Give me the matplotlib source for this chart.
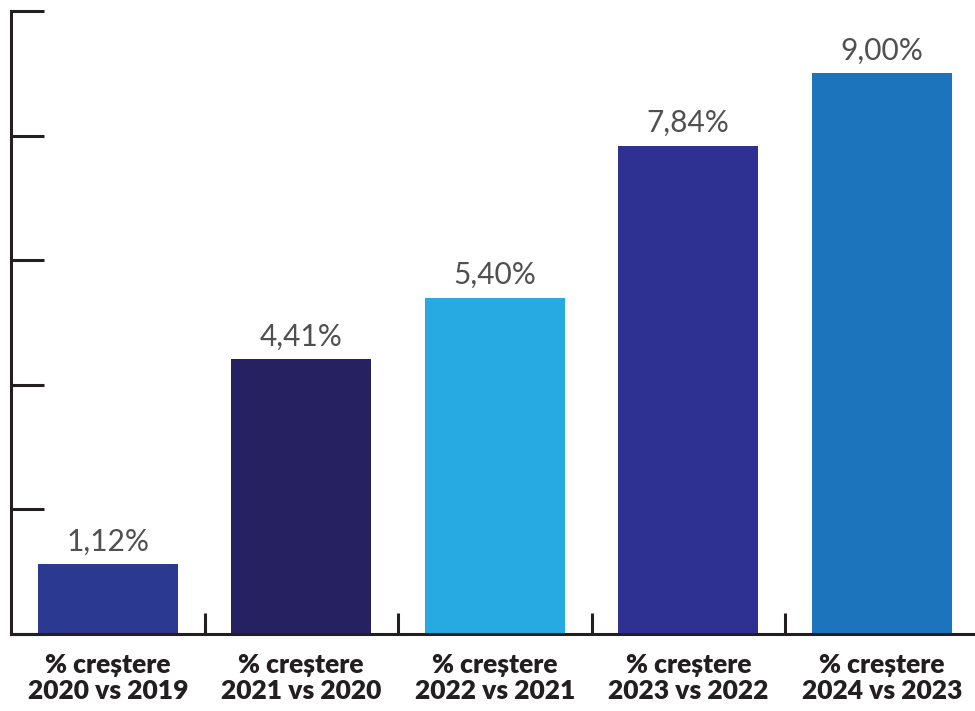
import matplotlib
matplotlib.use("Agg")
import matplotlib.pyplot as plt
from matplotlib.ticker import FixedLocator

categories = ["% creștere\n2020 vs 2019", "% creștere\n2021 vs 2020", "% creștere\n2022 vs 2021",
              "% creștere\n2023 vs 2022", "% creștere\n2024 vs 2023"]
values = [1.12, 4.41, 5.40, 7.84, 9.00]
value_labels = ["1,12%", "4,41%", "5,40%", "7,84%", "9,00%"]
colors = ["#2b3990", "#262262", "#27aae1", "#2e3192", "#1c75bc"]
yticks = [0, 2, 4, 6, 8, 10]

fig = plt.figure(figsize=(9.75, 7.11), dpi=100)
ax = fig.add_axes([11/975, 1 - 634/711, 967.5/975, 623/711])
x = list(range(len(values)))
ax.bar(x, values, width=0.725, color=colors, zorder=2)
for xi, v, lab in zip(x, values, value_labels):
    ax.text(xi, v + 0.14, lab, ha="center", va="bottom", fontsize=21.5,
            family="Lato", fontweight="normal", color="#505050")

ax.set_xlim(-0.5, 4.5)
ax.set_ylim(0, 10)
ax.set_yticks(yticks)
ax.set_yticklabels([])
ax.yaxis.set_tick_params(direction="in", length=24, width=2.2, color="#231f20")
ax.xaxis.set_major_locator(FixedLocator([0.5, 1.5, 2.5, 3.5]))
ax.set_xticklabels([])
ax.xaxis.set_tick_params(direction="in", length=15, width=2.2, color="#231f20")
for xi, c in zip(x, categories):
    ax.text(xi, -0.3, c, ha="center", va="top", fontsize=19, family="Lato",
            fontweight="heavy", color="#231f20", linespacing=1.12,
            transform=ax.transData, clip_on=False)
for s in ["top", "right"]:
    ax.spines[s].set_visible(False)
for s in ["left", "bottom"]:
    ax.spines[s].set_linewidth(2.2)
    ax.spines[s].set_color("#231f20")

fig.savefig("out.png", dpi=100)
